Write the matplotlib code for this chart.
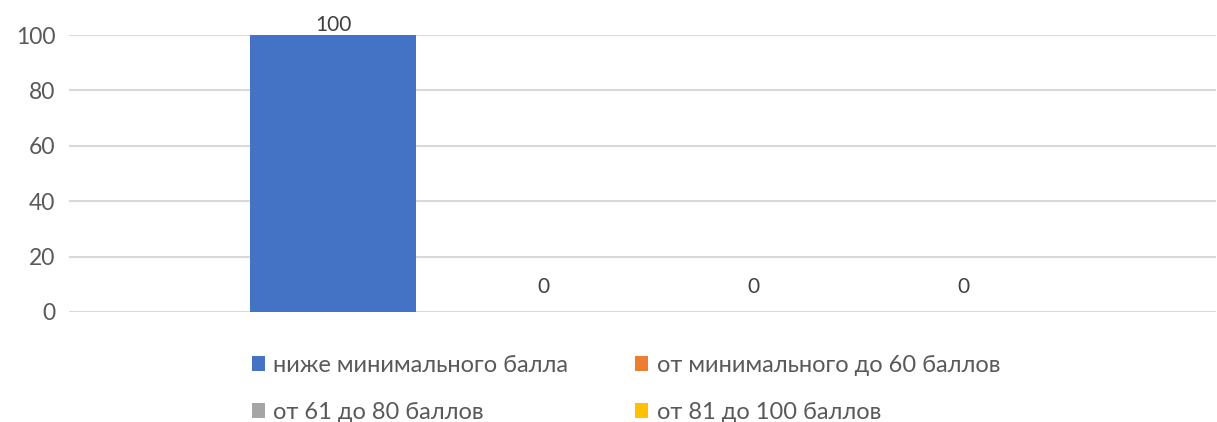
import matplotlib
matplotlib.use("Agg")
import matplotlib.pyplot as plt
from matplotlib.patches import Patch

series = ["ниже минимального балла", "от минимального до 60 баллов",
          "от 61 до 80 баллов", "от 81 до 100 баллов"]
values = [100, 0, 0, 0]
colors = ["#4472C4", "#ED7D31", "#A5A5A5", "#FFC000"]
yticks = [0, 20, 40, 60, 80, 100]

plt.rcParams['font.family'] = ['Lato', 'DejaVu Sans']
txt = "#595959"

fig = plt.figure(figsize=(12.17, 4.22), dpi=100)
ax = fig.add_axes([69/1217, 1-312/422, (1216-69)/1217, (312-35)/422])

x = list(range(len(values)))
ax.bar(x, values, width=166/210, color=colors, zorder=3)
ax.set_xlim(-1.257, 4.205)
ax.set_ylim(0, 100)
ax.set_yticks(yticks)
ax.set_yticklabels([str(t) for t in yticks], fontsize=16.5, color=txt)
ax.tick_params(axis='y', length=0, pad=10)
ax.set_xticks([])
ax.grid(axis='y', color="#D9D9D9", linewidth=1.5, zorder=0)
for s in ax.spines.values():
    s.set_visible(False)

for xi, v in zip(x, values):
    off = 7 if v >= 100 else 18
    ax.annotate(str(v), (xi, v), xytext=(0, off), textcoords='offset points',
                ha='center', va='center', fontsize=15, color=(0.25, 0.25, 0.25),
                annotation_clip=False)

# legend filled row-wise (matplotlib fills column-wise)
order = [0, 2, 1, 3]
handles = [Patch(facecolor=colors[i], edgecolor='none') for i in order]
labels = [series[i] for i in order]
leg = fig.legend(handles, labels, loc='upper left', bbox_to_anchor=(240/1217, 1-343/422),
                 ncol=2, frameon=False, fontsize=17, labelcolor=txt,
                 handlelength=0.55, handleheight=0.55, handletextpad=0.35,
                 columnspacing=2.85, labelspacing=1.1, borderpad=0)

fig.savefig("out.png", dpi=100)
